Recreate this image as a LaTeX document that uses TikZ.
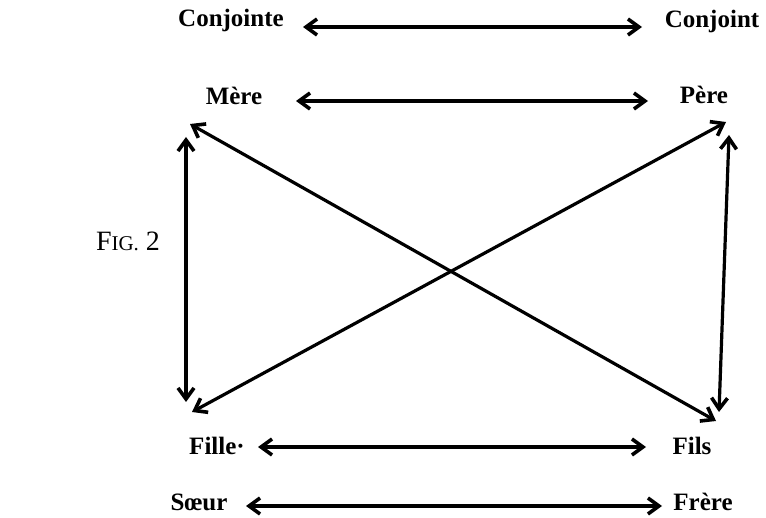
\documentclass[tikz,border=0pt]{standalone}
\usepackage{fontspec}
\setmainfont{Liberation Serif}
\usetikzlibrary{arrows.meta}
\begin{document}
\begin{tikzpicture}[x=1pt,y=-1pt,
  lbl/.style={font=\fontsize{25}{30}\selectfont\bfseries, inner sep=0pt, anchor=base},
  rel/.style={line width=3.2pt, {Straight Barb[length=11pt,width=16pt,line width=3.6pt]}-{Straight Barb[length=11pt,width=16pt,line width=3.6pt]}, line cap=round}
]
\useasboundingbox (0,0) rectangle (766,518);
% labels
\node[lbl] (conjointe) at (231,27) {Conjointe};
\node[lbl] (conjoint) at (712,28) {Conjoint};
\node[lbl] (mere) at (234,105) {Mère};
\node[lbl] (pere) at (704,104) {Père};
\node[lbl] (fille) at (217,454) {Fille·};
\node[lbl] (fils) at (692,454) {Fils};
\node[lbl] (soeur) at (199,511) {Sœur};
\node[lbl] (frere) at (703,511) {Frère};
\node[lbl, font=\fontsize{28}{32}\selectfont] (fig) at (128,251) {F{\fontsize{21}{24}\selectfont IG.} 2};
% arrow end points
\coordinate (c1) at (303,27);
\coordinate (c2) at (642,27);
\coordinate (m1) at (296,101);
\coordinate (m2) at (648,101);
\coordinate (f1) at (258,447);
\coordinate (f2) at (646,447);
\coordinate (s1) at (246,506);
\coordinate (s2) at (662,506);
\coordinate (lv1) at (186,137);
\coordinate (lv2) at (186,402);
\coordinate (rv1) at (729,135);
\coordinate (rv2) at (719,412);
\coordinate (d1a) at (190,124);
\coordinate (d1b) at (716,421);
\coordinate (d2a) at (726,122);
\coordinate (d2b) at (192,412);
% connectors
\draw[rel] (c1) -- (c2);
\draw[rel] (m1) -- (m2);
\draw[rel] (f1) -- (f2);
\draw[rel] (s1) -- (s2);
\draw[rel] (lv1) -- (lv2);
\draw[rel] (rv1) -- (rv2);
\draw[rel] (d1a) -- (d1b);
\draw[rel] (d2a) -- (d2b);
\end{tikzpicture}
\end{document}
